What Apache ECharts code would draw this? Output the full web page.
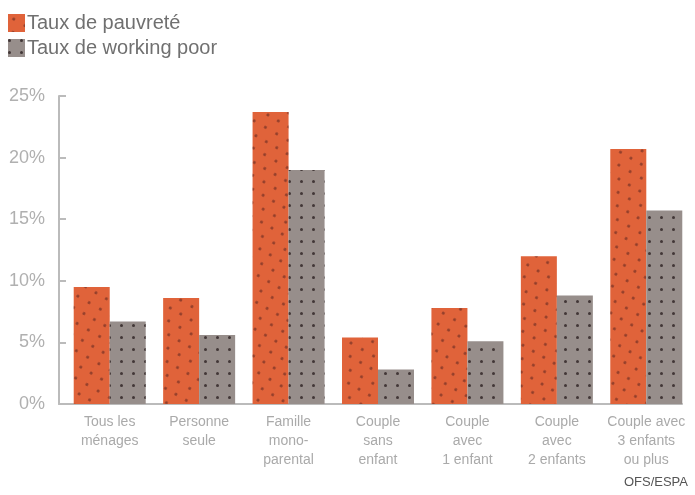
<!DOCTYPE html>
<html>
<head>
<meta charset="utf-8">
<script src="https://cdn.jsdelivr.net/npm/echarts@6/dist/echarts.min.js"></script>
<style>
html,body{margin:0;padding:0;background:#fff;}
#chart{width:695px;height:495px;}
</style>
</head>
<body>
<div id="chart"></div>
<script>
const categories = [
  "Tous les\nménages",
  "Personne\nseule",
  "Famille\nmono-\nparental",
  "Couple\nsans\nenfant",
  "Couple\navec\n1 enfant",
  "Couple\navec\n2 enfants",
  "Couple avec\n3 enfants\nou plus"
];
const seriesNames = ["Taux de pauvreté", "Taux de working poor"];
const pauvrete = [9.5, 8.6, 23.7, 5.4, 7.8, 12.0, 20.7];
const workingPoor = [6.7, 5.6, 19.0, 2.8, 5.1, 8.8, 15.7];
const yTicks = [0, 5, 10, 15, 20, 25];
const source = "OFS/ESPA";

const FONT = "'Liberation Sans', Arial, sans-serif";
const chart = echarts.init(document.getElementById('chart'), null, {renderer: 'canvas'});
chart.setOption({
  animation: false,
  aria: {enabled: true, decal: {show: true}},
  title: {
    text: source, right: 2, bottom: 1,
    textStyle: {fontFamily: FONT, fontSize: 13, fontWeight: 'normal', color: '#555'}
  },
  legend: {
    orient: 'vertical', left: 3, top: 8,
    itemWidth: 17, itemHeight: 18, itemGap: 5,
    icon: 'rect',
    textStyle: {fontFamily: FONT, fontSize: 20, color: '#707070', padding: [0, 0, 0, -3]},
    data: seriesNames
  },
  grid: [
    {left: 65, right: 4, top: 96, bottom: 91},
    {left: 59, right: 13, top: 96, bottom: 91}
  ],
  xAxis: [
    {
      type: 'category', gridIndex: 0, data: categories,
      axisLine: {show: false}, axisTick: {show: false},
      axisLabel: {fontFamily: FONT, fontSize: 14, color: '#aaa', lineHeight: 19, margin: 9, interval: 0}
    },
    {
      type: 'category', gridIndex: 1, data: categories,
      axisLine: {show: true, lineStyle: {color: '#bbb', width: 2}},
      axisTick: {show: false}, axisLabel: {show: false}
    }
  ],
  yAxis: [
    {
      type: 'value', gridIndex: 0, min: 0, max: 25, interval: 5,
      show: false, splitLine: {show: false}
    },
    {
      type: 'value', gridIndex: 1, min: yTicks[0], max: yTicks[yTicks.length - 1], interval: 5,
      axisLine: {show: true, lineStyle: {color: '#bbb', width: 2}},
      axisTick: {show: true, inside: true, length: 7, lineStyle: {color: '#bbb', width: 2}},
      splitLine: {show: false},
      axisLabel: {fontFamily: FONT, fontSize: 18, color: '#b0b0b0', margin: 14, formatter: v => v + '%'}
    }
  ],
  series: [
    {
      name: seriesNames[0], type: 'bar', xAxisIndex: 0, yAxisIndex: 0,
      data: pauvrete, barWidth: 36, barGap: '0%',
      itemStyle: {
        color: '#e0633a',
        decal: {
          symbol: 'circle', symbolSize: 1, color: 'rgba(110,45,35,0.7)',
          dashArrayX: [[2.4, 8.6], [0, 5.5, 2.4, 3.1]], dashArrayY: [2.4, 8.3]
        }
      }
    },
    {
      name: seriesNames[1], type: 'bar', xAxisIndex: 0, yAxisIndex: 0,
      data: workingPoor, barWidth: 36, barGap: '0%',
      itemStyle: {
        color: '#978e8b',
        decal: {
          symbol: 'circle', symbolSize: 1, color: 'rgba(50,40,40,0.85)',
          dashArrayX: [2.4, 8.6], dashArrayY: [2.4, 8.6]
        }
      }
    }
  ]
});
</script>
</body>
</html>
